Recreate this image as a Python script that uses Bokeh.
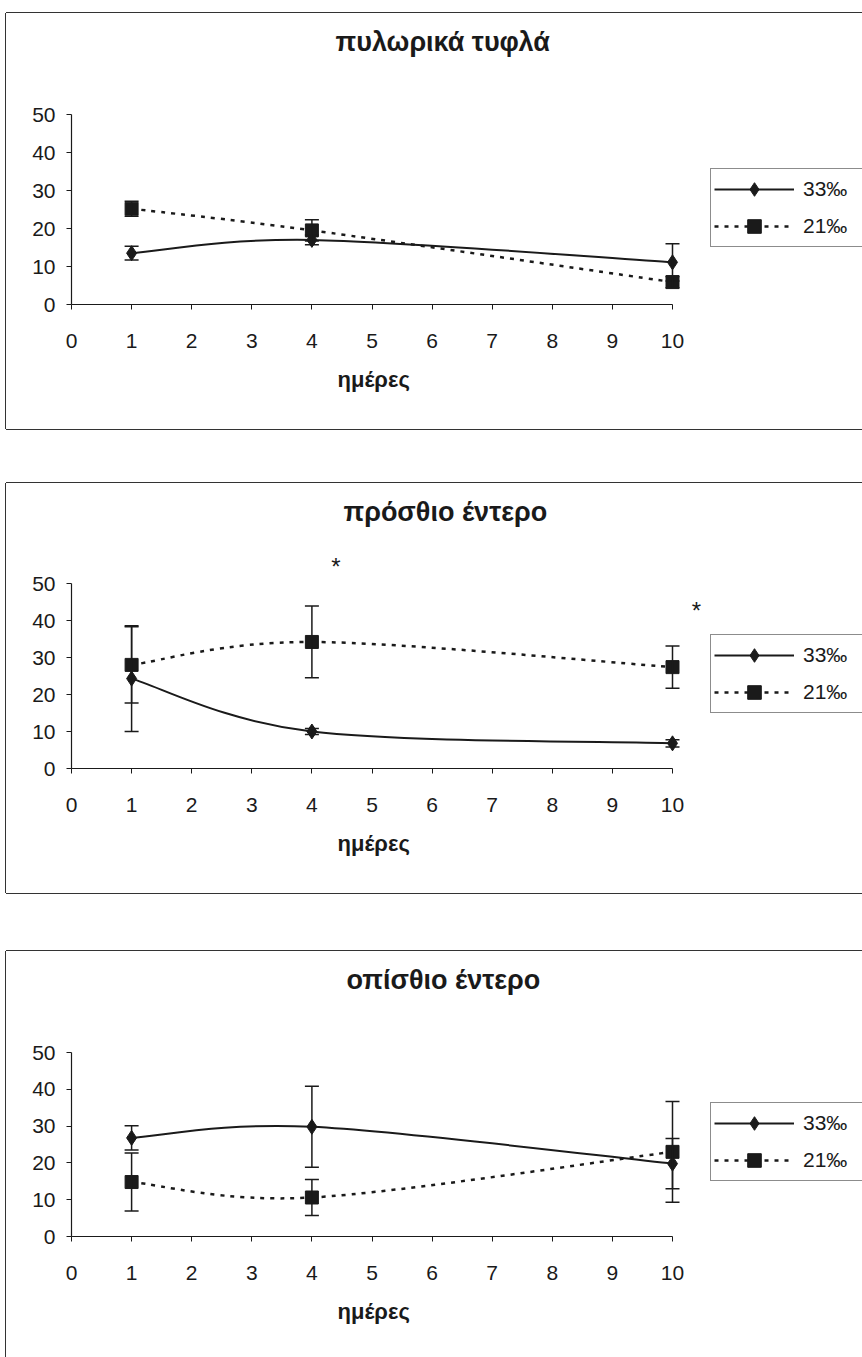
from bokeh.plotting import figure
from bokeh.models import (Whisker, TeeHead, ColumnDataSource, Legend, LegendItem,
                          Label, Spacer, FixedTicker, Range1d, Title)
from bokeh.layouts import column, row
from bokeh.embed import file_html
from bokeh.resources import INLINE

# ---------------- data ----------------
days = [1, 4, 10]
x_ticks = [0, 1, 2, 3, 4, 5, 6, 7, 8, 9, 10]
y_ticks = [0, 10, 20, 30, 40, 50]
label_33 = "33‰"
label_21 = "21‰"
x_label = "ημέρες"

titles = ["πυλωρικά τυφλά", "πρόσθιο έντερο", "οπίσθιο έντερο"]

# πυλωρικά τυφλά
pyl_33 = [13.5, 17.0, 11.1]
pyl_33_err = [1.8, 1.3, 4.9]
pyl_21 = [25.2, 19.5, 5.9]
pyl_21_err = [2.0, 2.8, 1.5]

# πρόσθιο έντερο
pro_33 = [24.3, 10.0, 6.8]
pro_33_err = [14.3, 0.8, 1.0]
pro_21 = [28.0, 34.2, 27.4]
pro_21_err = [10.3, 9.7, 5.7]

# οπίσθιο έντερο
opi_33 = [26.8, 29.8, 19.8]
opi_33_err = [3.3, 11.0, 6.8]
opi_21 = [14.8, 10.6, 23.0]
opi_21_err = [7.9, 4.9, 13.7]

# significance marks (πρόσθιο έντερο)
star_x = [4.4, 10.4]
star_y = [54.6, 42.7]
star_text = ["*", "*"]

# ---------------- styling ----------------
FONT = "Liberation Sans"
INK = "#1a1a1a"
W = 856
FRAME_LEFT = 65
PX_PER_DAY = 60.1
FRAME_TOP = 46
NAN = float("nan")


def bezier_source(xs, ys):
    """Excel-like smoothed connection: cubic Bezier segments through the data points."""
    n = len(xs)
    d = dict(x0=[], y0=[], x1=[], y1=[], cx0=[], cy0=[], cx1=[], cy1=[])
    for i in range(n - 1):
        i0 = max(i - 1, 0)
        i3 = min(i + 2, n - 1)
        d["x0"].append(xs[i]); d["y0"].append(ys[i])
        d["x1"].append(xs[i + 1]); d["y1"].append(ys[i + 1])
        d["cx0"].append(xs[i] + (xs[i + 1] - xs[i0]) / 6.0)
        d["cy0"].append(ys[i] + (ys[i + 1] - ys[i0]) / 6.0)
        d["cx1"].append(xs[i + 1] - (xs[i3] - xs[i]) / 6.0)
        d["cy1"].append(ys[i + 1] - (ys[i3] - ys[i]) / 6.0)
    return ColumnDataSource(d)


def make_panel(title, s33, e33, s21, e21, height, y50_rel, y0_rel, legend_top, title_left,
               stars=None, bottom_border=True):
    frame_h = y0_rel - FRAME_TOP
    y_end = frame_h * 50.0 / (y0_rel - y50_rel)
    x_end = (W - FRAME_LEFT) / PX_PER_DAY
    shadow = "-1px 0 0 0 #333, 0 -1px 0 0 #333"
    if bottom_border:
        shadow += ", 0 1px 0 0 #333"
    p = figure(width=W, height=height, x_range=Range1d(0, x_end), y_range=Range1d(0, y_end),
               output_backend="svg", toolbar_location=None,
               min_border_left=FRAME_LEFT, min_border_right=0,
               min_border_top=FRAME_TOP, min_border_bottom=int(height - y0_rel),
               background_fill_color="white", border_fill_color="white",
               outline_line_color=None, styles={"box-shadow": shadow})
    p.xgrid.grid_line_color = None
    p.ygrid.grid_line_color = None

    p.title.text = title
    p.title.text_font = FONT
    p.title.text_font_size = "27px"
    p.title.text_font_style = "bold"
    p.title.text_color = INK
    p.title.align = "left"
    p.title.offset = title_left
    p.title.standoff = 6

    for ax in (p.xaxis[0], p.yaxis[0]):
        ax.axis_line_color = INK
        ax.axis_line_width = 1.2
        ax.major_tick_line_color = INK
        ax.major_tick_out = 5
        ax.major_tick_in = 0
        ax.minor_tick_line_color = None
        ax.major_label_text_font = FONT
        ax.major_label_text_font_size = "21px"
        ax.major_label_text_color = INK
    p.xaxis[0].ticker = FixedTicker(ticks=x_ticks)
    p.xaxis[0].bounds = (0, 10)
    p.xaxis[0].major_label_standoff = 24
    p.yaxis[0].ticker = FixedTicker(ticks=y_ticks)
    p.yaxis[0].bounds = (0, 50)
    p.yaxis[0].major_label_standoff = 11

    # x-axis caption, centred under the 0..10 span of the axis
    p.add_layout(Title(text=x_label, align="left", offset=266, standoff=28,
                       text_font=FONT, text_font_size="22px", text_font_style="bold",
                       text_color=INK), "below")

    # error bars
    src33 = ColumnDataSource(dict(x=days, y=s33,
                                  lo=[v - e for v, e in zip(s33, e33)],
                                  hi=[v + e for v, e in zip(s33, e33)]))
    src21 = ColumnDataSource(dict(x=days, y=s21,
                                  lo=[v - e for v, e in zip(s21, e21)],
                                  hi=[v + e for v, e in zip(s21, e21)]))
    for src in (src33, src21):
        w = Whisker(base="x", upper="hi", lower="lo", source=src, dimension="height",
                    line_color=INK, line_width=1.5, level="glyph",
                    upper_head=TeeHead(size=14, line_color=INK, line_width=1.5),
                    lower_head=TeeHead(size=14, line_color=INK, line_width=1.5))
        p.add_layout(w)

    # smoothed lines
    b33 = bezier_source(days, s33)
    b21 = bezier_source(days, s21)
    p.bezier(x0="x0", y0="y0", x1="x1", y1="y1", cx0="cx0", cy0="cy0", cx1="cx1", cy1="cy1",
             source=b33, line_color=INK, line_width=2)
    p.bezier(x0="x0", y0="y0", x1="x1", y1="y1", cx0="cx0", cy0="cy0", cx1="cx1", cy1="cy1",
             source=b21, line_color=INK, line_width=2.5, line_dash="4 6")

    sc33 = p.scatter(x="x", y="y", source=src33, marker="diamond", size=15,
                     fill_color=INK, line_color=INK)
    sc21 = p.scatter(x="x", y="y", source=src21, marker="square", size=13,
                     fill_color=INK, line_color=INK)

    # legend proxies (draw nothing inside the plot)
    l33 = p.line(x=[NAN], y=[NAN], line_color=INK, line_width=2)
    l21 = p.line(x=[NAN], y=[NAN], line_color=INK, line_width=2.5, line_dash="4 6")

    legend_h = 76
    legend = Legend(items=[LegendItem(label=label_33, renderers=[l33, sc33]),
                           LegendItem(label=label_21, renderers=[l21, sc21])],
                    location=(639, int(y0_rel - legend_top - legend_h)),
                    border_line_color=INK, border_line_width=1.2,
                    background_fill_color="white", background_fill_alpha=1,
                    label_text_font=FONT, label_text_font_size="21px", label_text_color=INK,
                    glyph_width=80, glyph_height=34, label_height=22, label_width=70,
                    label_standoff=9, padding=3, spacing=3, margin=0)
    p.add_layout(legend)

    if stars:
        for sx, sy, st in zip(*stars):
            p.add_layout(Label(x=sx, y=sy, text=st, text_align="center",
                               text_baseline="middle", text_font=FONT,
                               text_font_size="24px", text_color=INK))
    return p


p1 = make_panel(titles[0], pyl_33, pyl_33_err, pyl_21, pyl_21_err,
                height=416, y50_rel=101, y0_rel=291, legend_top=158, title_left=264)
p2 = make_panel(titles[1], pro_33, pro_33_err, pro_21, pro_21_err,
                height=410, y50_rel=100, y0_rel=285, legend_top=154, title_left=272,
                stars=(star_x, star_y, star_text))
p3 = make_panel(titles[2], opi_33, opi_33_err, opi_21, opi_21_err,
                height=406, y50_rel=101, y0_rel=285, legend_top=154, title_left=275,
                bottom_border=False)

layout = column(Spacer(height=13), row(Spacer(width=6), p1),
                Spacer(height=54), row(Spacer(width=6), p2),
                Spacer(height=58), row(Spacer(width=6), p3))

open("out.html", "w").write(file_html(layout, INLINE))
